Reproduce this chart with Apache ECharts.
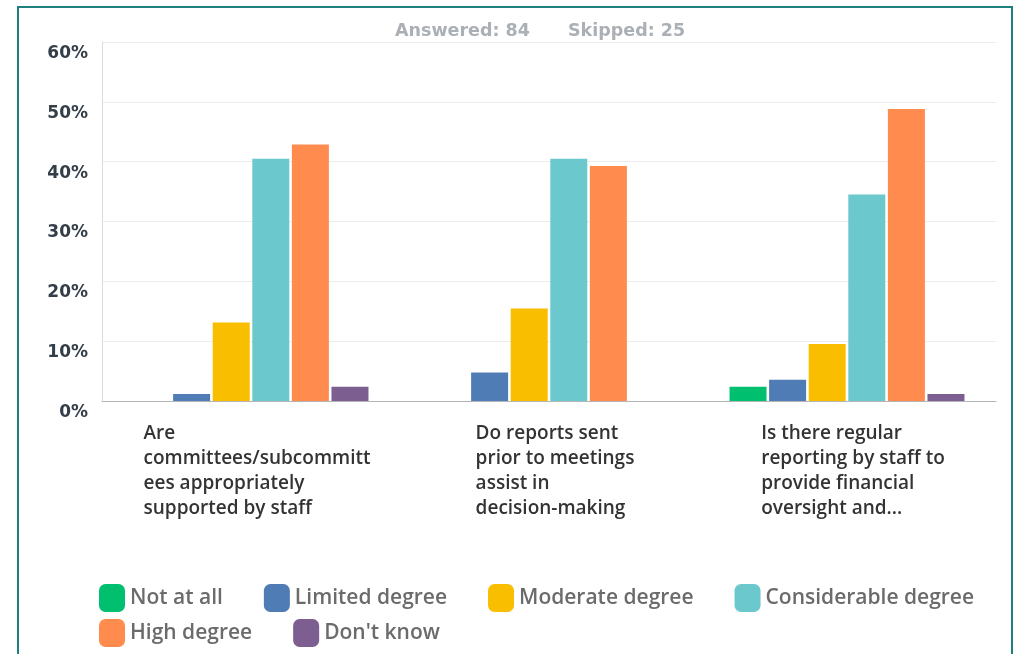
<!DOCTYPE html>
<html>
<head>
<meta charset="utf-8">
<title>Survey chart</title>
<script src="https://cdn.jsdelivr.net/npm/echarts@6/dist/echarts.min.js"></script>
<style>
  html,body{margin:0;padding:0;background:#fff;}
  #main{width:1017px;height:654px;}
</style>
</head>
<body>
<div id="main"></div>
<script>
// question labels (line breaks as in the survey export)
var questions = [
  'Are\ncommittees/subcommitt\nees appropriately\nsupported by staff',
  'Do reports sent\nprior to meetings\nassist in\ndecision-making',
  'Is there regular\nreporting by staff to\nprovide financial\noversight and...'
];
var answerNames = ['Not at all', 'Limited degree', 'Moderate degree', 'Considerable degree', 'High degree', "Don't know"];
var answerColors = ['#00bf6f', '#507cb6', '#f9be00', '#6bc8cd', '#ff8b4f', '#7d5e90'];

// percent of respondents, one array per answer
var notAtAll     = [0, 0, 2.38];
var limited      = [1.19, 4.76, 3.57];
var moderate     = [13.10, 15.48, 9.52];
var considerable = [40.48, 40.48, 34.52];
var high         = [42.86, 39.29, 48.81];
var dontKnow     = [2.38, 0, 1.19];

var yTicks = [0, 10, 20, 30, 40, 50, 60];

var seriesData = [notAtAll, limited, moderate, considerable, high, dontKnow];

var series = [];
seriesData.forEach(function (d, i) {
  series.push({
    name: answerNames[i],
    type: 'bar',
    barWidth: 37,
    barGap: '7%',
    itemStyle: {color: answerColors[i]},
    data: d
  });
});

var legendText = {fontFamily: 'Open Sans', fontSize: 21, fontWeight: 600, color: '#6b6b6b'};
var titleText = {fontFamily: 'DejaVu Sans', fontSize: 17.5, fontWeight: 'bold', color: '#aab0b5'};

var option = {
  animation: false,
  graphic: [{
    type: 'rect',
    shape: {x: 18, y: 7, width: 994, height: 660},
    style: {fill: 'none', stroke: '#1f7f7d', lineWidth: 2}
  }],
  title: [
    {text: 'Answered: 84', left: 390, top: 17, textStyle: titleText},
    {text: 'Skipped: 25', left: 563, top: 17, textStyle: titleText}
  ],
  legend: [
    {data: answerNames.slice(0, 4), left: 99, top: 584, padding: 0, itemWidth: 26, itemHeight: 28,
     itemGap: 41, icon: 'roundRect', textStyle: legendText, selectedMode: false},
    {data: answerNames.slice(4), left: 99, top: 619, padding: 0, itemWidth: 26, itemHeight: 28,
     itemGap: 41, icon: 'roundRect', textStyle: legendText, selectedMode: false}
  ],
  grid: {left: 102, right: 21, top: 42, bottom: 253, containLabel: false},
  xAxis: {
    type: 'category',
    data: questions,
    axisTick: {show: false},
    axisLine: {lineStyle: {color: '#b5b5b5', width: 1}},
    axisLabel: {
      margin: 20,
      align: 'center',
      interval: 0,
      padding: [0, 0, 0, 12],
      formatter: function (v) { return '{q|' + v + '}'; },
      rich: {
        q: {align: 'left', fontFamily: 'Open Sans', fontSize: 19, fontWeight: 600,
            color: '#333333', lineHeight: 25}
      }
    }
  },
  yAxis: {
    type: 'value',
    min: yTicks[0],
    max: yTicks[yTicks.length - 1],
    interval: 10,
    axisLine: {show: true, lineStyle: {color: '#dcdcdc'}},
    axisTick: {show: false},
    splitLine: {lineStyle: {color: '#ececec'}},
    axisLabel: {
      formatter: '{value}%',
      margin: 14,
      verticalAlign: 'top',
      padding: [3, 0, 0, 0],
      fontFamily: 'DejaVu Sans',
      fontSize: 17,
      fontWeight: 'bold',
      color: '#333e48'
    }
  },
  series: series
};

var chart = echarts.init(document.getElementById('main'));
chart.setOption(option);
</script>
</body>
</html>
